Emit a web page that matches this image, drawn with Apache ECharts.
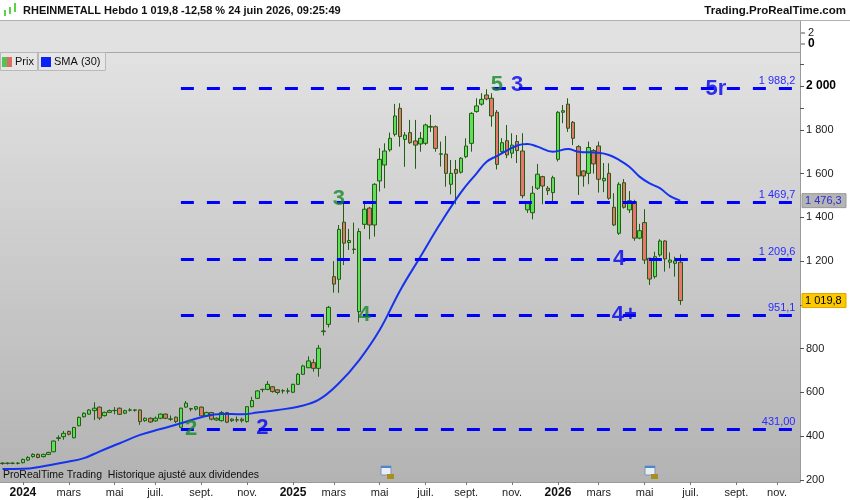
<!DOCTYPE html>
<html>
<head>
<meta charset="utf-8">
<script src="https://cdn.jsdelivr.net/npm/echarts@6/dist/echarts.min.js"></script>
<style>
  body { margin: 0; background: #fff; }
  #main { width: 850px; height: 500px; }
</style>
</head>
<body>
<div id="main"></div>
<script>
// weekly candles, first one = week of 4 Dec 2023
var openP = [275,276,277,276,279,291,307,317,307,317,329,390,398,422,393,448,489,501,517,533,
  494,509,517,528,505,519,520,520,471,482,470,482,501,478,487,441,533,526,524,533,
  493,508,474,471,508,471,474,478,467,535,573,613,614,626,612,607,607,601,637,683,
  713,736,710,878,911,1129,1117,1378,1285,1253,969,1368,1442,1365,1566,1639,1708,1779,1898,1756,
  1787,1749,1735,1738,1812,1814,1688,1689,1551,1619,1606,1677,1738,1883,1917,1959,1944,1880,1700,1750,
  1693,1746,1703,1434,1421,1533,1586,1533,1513,1665,1880,1917,1834,1723,1612,1601,1705,1726,1567,1601,
  1446,1327,1558,1434,1472,1305,1376,1213,1129,1228,1292,1195,1190,1195];
var closeP = [277,277,276,277,294,303,317,303,317,326,378,393,413,409,440,486,505,520,528,483,
  509,517,518,500,517,520,519,467,482,465,482,501,482,479,467,528,551,524,535,493,
  508,478,482,508,464,478,475,471,535,563,607,614,637,604,600,608,606,637,683,721,
  744,710,802,881,989,1095,1345,1282,1294,1255,1335,1437,1365,1551,1665,1703,1761,1863,1769,1776,
  1741,1730,1761,1822,1815,1715,1690,1601,1601,1601,1670,1726,1875,1909,1939,1941,1863,1642,1741,1685,
  1730,1705,1499,1464,1510,1597,1543,1522,1581,1880,1887,1807,1761,1589,1589,1719,1644,1574,1578,1487,
  1365,1551,1446,1476,1305,1339,1205,1118,1220,1292,1210,1205,1201,1019.8];
var lowP = [270,271,272,271,276,287,302,299,303,314,327,378,384,404,390,445,486,498,474,474,
  490,506,500,497,501,513,512,452,466,461,466,478,478,470,460,437,530,514,517,490,
  488,472,470,467,460,465,464,462,462,532,570,601,610,599,591,595,594,597,634,680,
  711,695,672,860,897,1056,1055,1182,1251,1233,920,1347,1300,1312,1518,1533,1700,1770,1723,1631,
  1735,1622,1700,1730,1790,1700,1632,1540,1505,1460,1600,1670,1700,1878,1910,1935,1814,1619,1690,1670,
  1670,1648,1487,1420,1391,1525,1460,1502,1472,1655,1830,1790,1730,1502,1540,1551,1600,1513,1515,1480,
  1360,1320,1440,1420,1293,1300,1187,1091,1120,1220,1152,1167,1129,1000];
var highP = [282,281,281,282,298,309,322,321,320,329,380,404,424,426,443,490,509,524,555,536,
  512,522,533,531,521,528,524,523,486,486,490,504,504,495,490,531,561,530,538,536,
  512,511,486,515,511,482,490,485,538,580,610,617,652,629,615,615,620,640,688,726,
  765,752,817,954,995,1200,1365,1466,1347,1376,1350,1475,1448,1556,1716,1738,1787,1918,1921,1790,
  1845,1845,1790,1828,1868,1820,1746,1772,1662,1662,1675,1761,1880,1944,1967,1985,1967,1890,1762,1822,
  1784,1776,1784,1470,1543,1644,1590,1543,1590,1885,1913,1944,1840,1730,1616,1746,1712,1746,1648,1647,
  1510,1560,1575,1520,1480,1370,1437,1215,1243,1300,1295,1240,1220,1231];

// SMA(30): [week index, value]
var smaPts = [[0,250],[4,251],[8,263],[12,280],[16,300],[19,330],[23,368],[27,406],[31,433],[35,459],
  [39,487],[43,502],[47,500],[50,508],[54,520],[58,535],[62,566],[66,642],[70,748],[74,885],
  [78,1065],[82,1220],[86,1375],[90,1515],[93,1600],[95,1654],[97,1680],[101,1728],[103,1735],[105,1723],
  [108,1700],[111,1712],[113,1700],[117,1695],[119,1685],[121,1662],[123,1631],[125,1586],[127,1555],
  [129,1533],[131,1497],[133,1476.3]];

var levels = [1988.2, 1469.7, 1209.6, 951.1, 431.00];
var levelText = ['1 988,2', '1 469,7', '1 209,6', '951,1', '431,00'];

var waveText = ['2', '2', '3', '4', '5', '3', '5r', '4', '4+'];
var waveIdx = [37, 51, 66, 71, 97, 101, 140, 121, 122];
var waveVal = [435, 440, 1485, 956, 2004, 2004, 1986, 1210, 953];
var waveGreen = [true, false, true, true, true, false, false, false, false];

var yLabelVals = [200, 400, 600, 800, 1200, 1400, 1600, 1800, 2000];
var yTickVals = [200, 400, 600, 800, 1000, 1200, 1400, 1600, 1800, 1900, 2000, 2100];
var monthNames = ['janv.','févr.','mars','avr.','mai','juin','juil.','août','sept.','oct.','nov.','déc.'];

var nWeeks = 157;
var startDay = Date.UTC(2023, 11, 4);
var weekKeys = [];
for (var i = 0; i < nWeeks; i++) {
  weekKeys.push(new Date(startDay + i * 7 * 86400000).toISOString().slice(0, 10));
}

var candles = openP.map(function (o, i) { return [o, closeP[i], lowP[i], highP[i]]; });

function isLabelWeek(idx, val) {
  var d = new Date(val);
  return d.getUTCDate() <= 7 && d.getUTCMonth() % 2 === 0;
}
function fmtWeek(val) {
  var d = new Date(val);
  var m = d.getUTCMonth();
  return m === 0 ? '{y|' + d.getUTCFullYear() + '}' : monthNames[m];
}
function fmtPrice(v) {
  var s = v >= 1000 ? Math.floor(v / 1000) + ' ' + String(v % 1000).padStart(3, '0') : String(v);
  return v === 2000 ? '{b|' + s + '}' : s;
}

var font = 'Liberation Sans, Arial, sans-serif';

var lineData = levels.map(function (v, i) {
  return [{ coord: [35, v], label: { formatter: levelText[i] } }, { coord: [156, v] }];
});

var waveData = waveText.map(function (t, i) {
  return {
    value: [waveIdx[i], waveVal[i]],
    name: t,
    label: { color: waveGreen[i] ? '#14892a' : '#0000ee' }
  };
});

var chart = echarts.init(document.getElementById('main'));

var option = {
  animation: false,
  backgroundColor: '#ffffff',
  grid: { left: 0, right: 50, top: 52, bottom: 18 },
  xAxis: {
    type: 'category',
    data: weekKeys,
    boundaryGap: true,
    axisLine: { lineStyle: { color: '#9a9a9a' } },
    axisTick: { show: true, interval: isLabelWeek, alignWithLabel: true, length: 3, lineStyle: { color: '#777' } },
    axisLabel: {
      interval: isLabelWeek, formatter: fmtWeek, color: '#222', fontSize: 11, fontFamily: font, margin: 5,
      rich: { y: { fontWeight: 'bold', fontSize: 12, color: '#111', fontFamily: font } }
    },
    splitLine: { show: false }
  },
  yAxis: {
    type: 'value',
    position: 'right',
    min: 190.9,
    max: 2155.3,
    splitLine: { show: false },
    axisLine: { show: true, lineStyle: { color: '#9a9a9a' } },
    axisTick: { show: true, length: 4, customValues: yTickVals, lineStyle: { color: '#555' } },
    axisLabel: {
      customValues: yLabelVals, formatter: fmtPrice, margin: 6, fontSize: 11, color: '#1a1a1a', fontFamily: font,
      rich: { b: { fontWeight: 'bold', fontSize: 12, color: '#000', fontFamily: font } }
    }
  },
  graphic: [
    { type: 'rect', z: -100, shape: { x: 0, y: 52, width: 800, height: 430 },
      style: { fill: new echarts.graphic.LinearGradient(0, 0, 0, 1, [{ offset: 0, color: '#e2e2e2' }, { offset: 1, color: '#b3b3b3' }]) } },
    { type: 'rect', z: -100, shape: { x: 0, y: 21, width: 800, height: 31 }, style: { fill: '#e1e1e1' } },
    { type: 'line', z: 50, shape: { x1: 0, y1: 20.5, x2: 850, y2: 20.5 }, style: { stroke: '#b0b0b0', lineWidth: 1 } },
    { type: 'line', z: 50, shape: { x1: 0, y1: 52.5, x2: 800, y2: 52.5 }, style: { stroke: '#a8a8a8', lineWidth: 1 } },
    { type: 'line', z: 50, shape: { x1: 800.5, y1: 21, x2: 800.5, y2: 52 }, style: { stroke: '#9a9a9a', lineWidth: 1 } },
    { type: 'line', z: 50, shape: { x1: 801, y1: 33, x2: 805, y2: 33 }, style: { stroke: '#555', lineWidth: 1 } },
    { type: 'line', z: 50, shape: { x1: 801, y1: 44, x2: 805, y2: 44 }, style: { stroke: '#555', lineWidth: 1 } },
    { type: 'text', z: 50, x: 808, y: 33, style: { text: '2', font: '11px ' + font, fill: '#1a1a1a', verticalAlign: 'middle' } },
    { type: 'text', z: 50, x: 808, y: 44, style: { text: '0', font: 'bold 12px ' + font, fill: '#000', verticalAlign: 'middle' } },
    // header
    { type: 'rect', z: 50, shape: { x: 4, y: 10, width: 2, height: 6 }, style: { fill: '#5fd04a' } },
    { type: 'rect', z: 50, shape: { x: 9, y: 7, width: 2, height: 7 }, style: { fill: '#5fd04a' } },
    { type: 'rect', z: 50, shape: { x: 14, y: 3, width: 2, height: 9 }, style: { fill: '#5fd04a' } },
    { type: 'text', z: 50, x: 23, y: 11, style: { text: 'RHEINMETALL Hebdo 1 019,8 -12,58 % 24 juin 2026, 09:25:49', font: 'bold 11px ' + font, fill: '#111', verticalAlign: 'middle' } },
    { type: 'text', z: 50, x: 846, y: 11, style: { text: 'Trading.ProRealTime.com', font: 'bold 11.5px ' + font, fill: '#111', align: 'right', verticalAlign: 'middle' } },
    // legend boxes
    { type: 'rect', z: 50, shape: { x: 0.5, y: 52.5, width: 37, height: 18 }, style: { fill: '#e6e6e6', stroke: '#b8b8b8' } },
    { type: 'rect', z: 51, shape: { x: 2, y: 57, width: 5, height: 10 }, style: { fill: '#52c452' } },
    { type: 'rect', z: 51, shape: { x: 7, y: 57, width: 5, height: 10 }, style: { fill: '#e06a66' } },
    { type: 'text', z: 51, x: 15, y: 62, style: { text: 'Prix', font: '11px ' + font, fill: '#111', verticalAlign: 'middle' } },
    { type: 'rect', z: 50, shape: { x: 38.5, y: 52.5, width: 67, height: 18 }, style: { fill: '#e6e6e6', stroke: '#b8b8b8' } },
    { type: 'rect', z: 51, shape: { x: 41, y: 57, width: 10, height: 10 }, style: { fill: '#0a22f5' } },
    { type: 'text', z: 51, x: 54, y: 62, style: { text: 'SMA (30)', font: '11px ' + font, fill: '#111', verticalAlign: 'middle' } },
    // footer text and calendar icons
    { type: 'text', z: 50, x: 3, y: 475, style: { text: 'ProRealTime Trading  Historique ajusté aux dividendes', font: '10.5px ' + font, fill: '#111', verticalAlign: 'middle' } },
    { type: 'group', z: 50, x: 381, y: 466, children: [
      { type: 'rect', shape: { x: 0, y: 0, width: 10, height: 9 }, style: { fill: '#e8edf4', stroke: '#7a96bb', lineWidth: 1 } },
      { type: 'rect', shape: { x: 0, y: 0, width: 10, height: 2 }, style: { fill: '#4f86c6' } },
      { type: 'rect', shape: { x: 6, y: 8, width: 7, height: 5 }, style: { fill: '#a88f1c' } }
    ] },
    { type: 'group', z: 50, x: 645, y: 466, children: [
      { type: 'rect', shape: { x: 0, y: 0, width: 10, height: 9 }, style: { fill: '#e8edf4', stroke: '#7a96bb', lineWidth: 1 } },
      { type: 'rect', shape: { x: 0, y: 0, width: 10, height: 2 }, style: { fill: '#4f86c6' } },
      { type: 'rect', shape: { x: 6, y: 8, width: 7, height: 5 }, style: { fill: '#a88f1c' } }
    ] }
  ],
  series: [
    {
      name: 'Prix',
      type: 'candlestick',
      data: candles,
      barWidth: 4,
      z: 2,
      itemStyle: {
        color: '#5fe05a', color0: '#e8766e',
        borderColor: '#235c12', borderColor0: '#235c12', borderWidth: 1
      },
      markLine: {
        silent: true,
        symbol: 'none',
        animation: false,
        lineStyle: { color: '#0000ff', width: 3, type: [13, 13] },
        label: { show: true, position: 'insideEndTop', distance: 2, color: '#2a2aff', fontSize: 11, fontFamily: font },
        data: lineData
      }
    },
    {
      name: 'SMA (30)',
      type: 'line',
      data: smaPts,
      smooth: 0.4,
      showSymbol: false,
      z: 4,
      lineStyle: { color: '#1533ee', width: 2 }
    },
    {
      type: 'scatter',
      data: waveData,
      symbolSize: 0,
      z: 6,
      label: {
        show: true, position: 'inside', formatter: '{b}',
        fontSize: 22, fontWeight: 'bold', fontFamily: font
      }
    }
  ]
};

chart.setOption(option);

// price tags on the right axis
var yLast = chart.convertToPixel({ yAxisIndex: 0 }, 1019.8);
var ySma = chart.convertToPixel({ yAxisIndex: 0 }, 1476.3);
chart.setOption({
  graphic: option.graphic.concat([
    { type: 'rect', z: 60, shape: { x: 802, y: ySma - 7, width: 44, height: 14 }, style: { fill: '#b5b5b5', stroke: '#9a9a9a' } },
    { type: 'text', z: 61, x: 805, y: ySma, style: { text: '1 476,3', font: '11px ' + font, fill: '#2b2bd0', verticalAlign: 'middle' } },
    { type: 'rect', z: 60, shape: { x: 802, y: yLast - 7, width: 44, height: 14 }, style: { fill: '#fcc800', stroke: '#d9a800' } },
    { type: 'text', z: 61, x: 805, y: yLast, style: { text: '1 019,8', font: '11px ' + font, fill: '#000', verticalAlign: 'middle' } }
  ])
});
</script>
</body>
</html>
